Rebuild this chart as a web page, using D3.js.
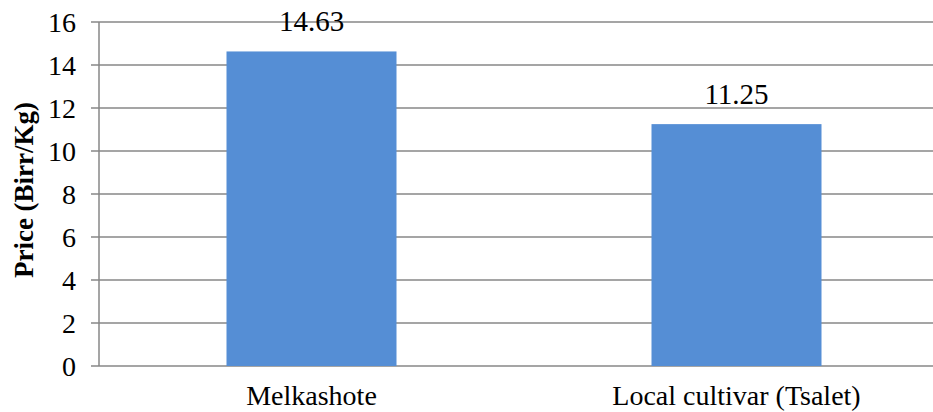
<!DOCTYPE html>
<html>
<head>
<meta charset="utf-8">
<script src="https://cdn.jsdelivr.net/npm/d3@7"></script>
<style>
  body { margin: 0; background: #fff; }
</style>
</head>
<body>
<div id="chart"></div>
<script>
'use strict';

// Chart data
var categories = ['Melkashote', 'Local cultivar (Tsalet)'];
var prices = [14.63, 11.25];
var valueLabels = ['14.63', '11.25'];
var yTicks = [0, 2, 4, 6, 8, 10, 12, 14, 16];

var width = 933, height = 412;
var margin = { left: 99, top: 22, bottom: 46 };
var serif = "'Liberation Serif', 'Times New Roman', serif";

var svg = d3.select('#chart').append('svg')
    .attr('width', width)
    .attr('height', height);

//Scales - the category range runs past the right edge, as in the source
var x = d3.scaleBand()
    .domain(categories)
    .range([margin.left, 949])
    .paddingInner(0.6)
    .paddingOuter(0.3);

var y = d3.scaleLinear()
    .domain([0, 16])
    .range([height - margin.bottom, margin.top]);

//Gridlines + tick marks
svg.append('g').selectAll('line')
    .data(yTicks)
    .enter().append('line')
        .attr('x1', margin.left - 8)
        .attr('x2', width)
        .attr('y1', function(d) { return y(d); })
        .attr('y2', function(d) { return y(d); })
        .attr('stroke', '#878787')
        .attr('stroke-width', 1.5);

//Y axis line
svg.append('line')
    .attr('x1', margin.left).attr('x2', margin.left)
    .attr('y1', y(16)).attr('y2', y(0))
    .attr('stroke', '#878787')
    .attr('stroke-width', 1.5);

//Tick labels
svg.append('g').selectAll('text')
    .data(yTicks)
    .enter().append('text')
        .attr('x', 76)
        .attr('y', function(d) { return y(d); })
        .attr('dy', '0.35em')
        .attr('text-anchor', 'end')
        .attr('font-family', serif)
        .attr('font-size', 28)
        .attr('fill', '#000')
        .text(function(d) { return d; });

//Bars
svg.append('g').selectAll('rect')
    .data(prices)
    .enter().append('rect')
        .attr('x', function(d, i) { return x(categories[i]); })
        .attr('width', x.bandwidth())
        .attr('y', function(d) { return y(d); })
        .attr('height', function(d) { return y(0) - y(d); })
        .attr('fill', '#558ED5');

//Value labels above bars
svg.append('g').selectAll('text')
    .data(prices)
    .enter().append('text')
        .attr('x', function(d, i) { return x(categories[i]) + x.bandwidth() / 2; })
        .attr('y', function(d) { return y(d) - 20; })
        .attr('text-anchor', 'middle')
        .attr('font-family', serif)
        .attr('font-size', 29)
        .attr('fill', '#000')
        .text(function(d, i) { return valueLabels[i]; });

//Category labels
svg.append('g').selectAll('text')
    .data(categories)
    .enter().append('text')
        .attr('x', function(d) { return x(d) + x.bandwidth() / 2; })
        .attr('y', 405)
        .attr('text-anchor', 'middle')
        .attr('font-family', serif)
        .attr('font-size', 28)
        .attr('fill', '#000')
        .text(function(d) { return d; });

//Y axis title
svg.append('text')
    .attr('transform', 'translate(33,' + 190 + ') rotate(-90)')
    .attr('text-anchor', 'middle')
    .attr('font-family', serif)
    .attr('font-size', 27)
    .attr('font-weight', 'bold')
    .attr('fill', '#000')
    .text('Price (Birr/Kg)');
</script>
</body>
</html>
